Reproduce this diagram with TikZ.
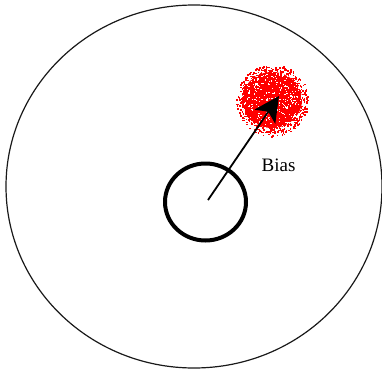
\documentclass[tikz,border=0pt]{standalone}
\usepackage{fontspec}
\setmainfont{Liberation Serif}
\usepackage{tikz}
\usetikzlibrary{shapes.geometric, arrows.meta, positioning, calc}
\tikzset{
  % target styles
  fieldring/.style={ellipse, draw=black!90, line width=1.2pt, minimum width=376pt, minimum height=363pt, inner sep=0pt},
  aimring/.style={ellipse, draw=black, line width=4pt, minimum width=81pt, minimum height=77pt, inner sep=0pt},
  biasarrow/.style={-{Stealth[length=25pt, width=25pt, inset=6pt]}, line width=1.8pt},
  speck/.style={fill=#1},
  speck/.default={red},
}

\begin{document}
\begin{tikzpicture}[x=1pt, y=-1pt]
    \useasboundingbox (0,0) rectangle (382,370);

    % Outer field
    \node[fieldring] (field) at (194,186.5) {};

    % Shot cloud (noisy red blob)
    \coordinate (blob) at (272,100);
    \fill[red] (blob) ellipse (30 and 28);
    \pgfmathsetseed{42}
    \foreach \k in {1,...,420} {
      \pgfmathsetmacro\ang{360*rnd}
      \pgfmathsetmacro\rad{27+9*rnd}
      \fill[speck] ($(blob)+(\ang:\rad)$) rectangle +(1.6,1.6);
    }
    \foreach \k in {1,...,260} {
      \pgfmathsetmacro\ang{360*rnd}
      \pgfmathsetmacro\rad{31*sqrt(rnd)}
      \fill[speck=white] ($(blob)+(\ang:\rad)$) rectangle +(1.2,1.2);
    }

    % Aim ring
    \node[aimring] (aim) at (205.5,202) {};

    % Bias arrow
    \coordinate (hit) at (279,96);
    \draw[biasarrow] ([shift={(2.5,-2)}]aim.center) -- (hit);
    \node[font=\fontsize{19}{21}\selectfont] (bias) at (278.5,165) {Bias};
  \end{tikzpicture}
\end{document}
